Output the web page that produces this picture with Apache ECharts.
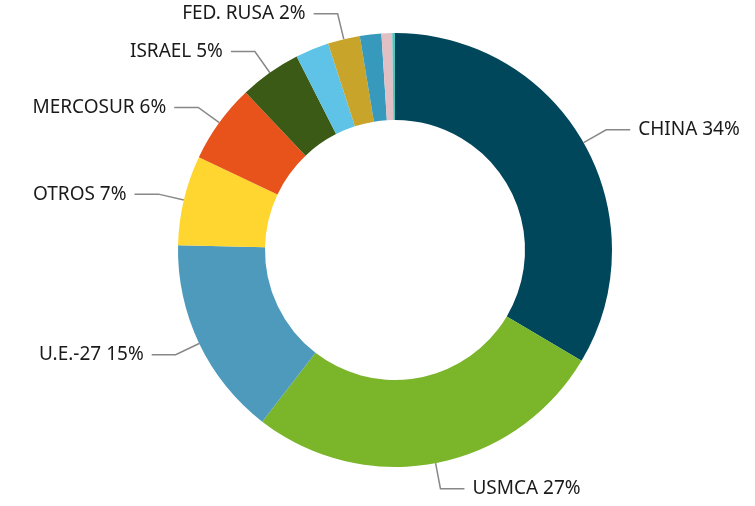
<!DOCTYPE html>
<html><head><meta charset="utf-8">
<script src="https://cdn.jsdelivr.net/npm/echarts@6/dist/echarts.min.js"></script>
<style>html,body{margin:0;padding:0;background:#fff}#c{width:755px;height:506px}</style>
</head><body><div id="c"></div>
<script>
const categories = ["CHINA","USMCA","U.E.-27","OTROS","MERCOSUR","ISRAEL","Otro 1","FED. RUSA","Otro 2","Otro 3","Otro 4"];
const values = [33.6, 27.0, 14.9, 6.7, 5.9, 4.6, 2.5, 2.4, 1.6, 0.8, 0.2];
const showLabel = [true, true, true, true, true, true, false, true, false, false, false];
const colors = ["#00475c","#7ab52a","#4d9abd","#ffd530","#e8521b","#3a5a16","#5ec3e6","#c9a42a","#3799bb","#e0c0c5","#4fc6c0"];

const data = categories.map((n, i) => ({
  name: n, value: values[i],
  itemStyle: { color: colors[i] },
  label: { show: showLabel[i] },
  labelLine: { show: showLabel[i] }
}));

const chart = echarts.init(document.getElementById('c'));
chart.setOption({
  animation: false,
  series: [{
    type: 'pie',
    center: [395, 250],
    radius: [130, 217],
    startAngle: 90,
    clockwise: true,
    avoidLabelOverlap: true,
    data: data,
    itemStyle: { borderWidth: 0 },
    label: {
      formatter: p => p.name + ' ' + Math.round(p.percent) + '%',
      fontFamily: '"Noto Sans", "Open Sans", sans-serif',
      fontSize: 19,
      color: '#1a1a1a',
      distanceToLabelLine: 8
    },
    labelLine: {
      length: 26,
      length2: 24,
      lineStyle: { color: '#888', width: 1.5 }
    }
  }]
});
</script></body></html>
